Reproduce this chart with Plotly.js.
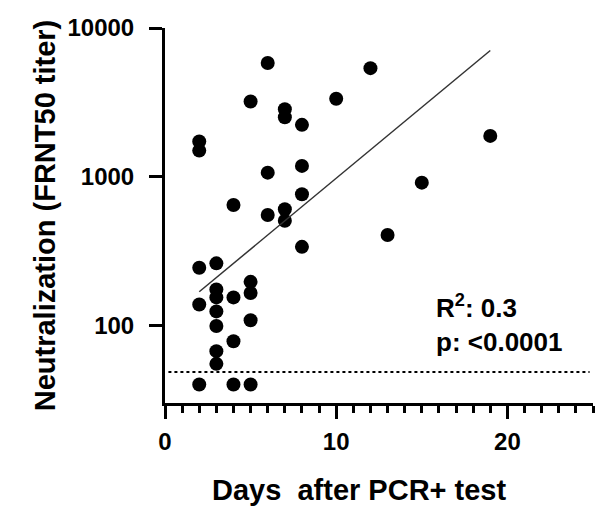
<!DOCTYPE html>
<html>
<head>
<meta charset="utf-8">
<script src="https://cdn.plot.ly/plotly-3.0.1.min.js"></script>
<style>html,body{margin:0;padding:0;background:#fff;}</style>
</head>
<body>
<div id="chart" style="width:603px;height:508px;"></div>
<script>
// Data
var days   = [6, 5, 7, 7, 8, 10, 12, 2, 2, 6, 8, 8, 4, 6, 7, 7, 19, 15, 13, 8, 2, 3, 3, 3, 3, 3, 4, 5, 5, 2, 5, 4, 3, 3, 2, 4, 5];
var titers = [5810, 3200, 2845, 2512, 2230, 3340, 5370, 1722, 1497, 1064, 1181, 761, 644, 552, 603, 505, 1880, 911, 405, 337, 244, 261, 174, 154, 124, 99, 154, 196, 165, 138, 108, 78, 67, 55, 40, 40, 40];
var fitDays = [2, 19];
var fitTiters = [168, 7060];
var lodDays = [0.2, 24.8];
var lodTiters = [48.5, 48.5];
var yTickVals = [100, 1000, 10000];
var yTickText = ["100", "1000", "10000"];
var xTickVals = [0, 10, 20];
var xTickText = ["0", "10", "20"];

var FONT = "Arial, 'Liberation Sans', sans-serif";

var traces = [
  {x: lodDays, y: lodTiters, type: 'scatter', mode: 'lines',
   line: {color: '#000', width: 2, dash: 'dot'}, hoverinfo: 'skip', showlegend: false},
  {x: days, y: titers, type: 'scatter', mode: 'markers',
   marker: {color: '#000', size: 14, line: {width: 0}}, showlegend: false},
  {x: fitDays, y: fitTiters, type: 'scatter', mode: 'lines',
   line: {color: '#333', width: 1.5}, showlegend: false}
];

var layout = {
  width: 603, height: 508,
  margin: {l: 165, r: 10, t: 28, b: 105},
  paper_bgcolor: '#fff', plot_bgcolor: '#fff',
  showlegend: false,
  xaxis: {
    range: [0, 25], tickmode: 'array', tickvals: xTickVals, ticktext: xTickText,
    ticks: 'outside', ticklen: 13, tickwidth: 3, tickcolor: '#000',
    showline: true, linewidth: 3, linecolor: '#000',
    showgrid: false, zeroline: false,
    minor: {tickmode: 'linear', tick0: 0, dtick: 1, ticks: 'outside', ticklen: 7, tickwidth: 3, tickcolor: '#000', showgrid: false},
    tickfont: {family: FONT, size: 24, color: '#000', weight: 'bold'},
    ticklabelstandoff: 2
  },
  yaxis: {
    type: 'log', range: [Math.log10(30), 4],
    tickmode: 'array', tickvals: yTickVals, ticktext: yTickText,
    ticks: 'outside', ticklen: 13, tickwidth: 3, tickcolor: '#000',
    showline: true, linewidth: 3, linecolor: '#000',
    showgrid: false, zeroline: false,
    tickfont: {family: FONT, size: 24, color: '#000', weight: 'bold'},
    ticklabelstandoff: 10,
    title: {text: 'Neutralization (FRNT50 titer)', standoff: 4,
            font: {family: FONT, size: 29, color: '#000', weight: 'bold'}}
  },
  annotations: [
    {xref: 'paper', yref: 'paper', x: 0.454, y: -0.232, xanchor: 'center', yanchor: 'middle',
     text: 'Days\u00a0 after PCR+ test', showarrow: false,
     font: {family: FONT, size: 29, color: '#000', weight: 'bold'}},
    {xref: 'paper', yref: 'paper', x: 0.629, y: 0.212, xanchor: 'left', yanchor: 'middle', align: 'left',
     text: 'R<sup>2</sup>: 0.3<br>p: <0.0001', showarrow: false,
     font: {family: FONT, size: 26, color: '#000', weight: 'bold'}}
  ]
};

Plotly.newPlot('chart', traces, layout, {displayModeBar: false, staticPlot: true});
</script>
</body>
</html>
